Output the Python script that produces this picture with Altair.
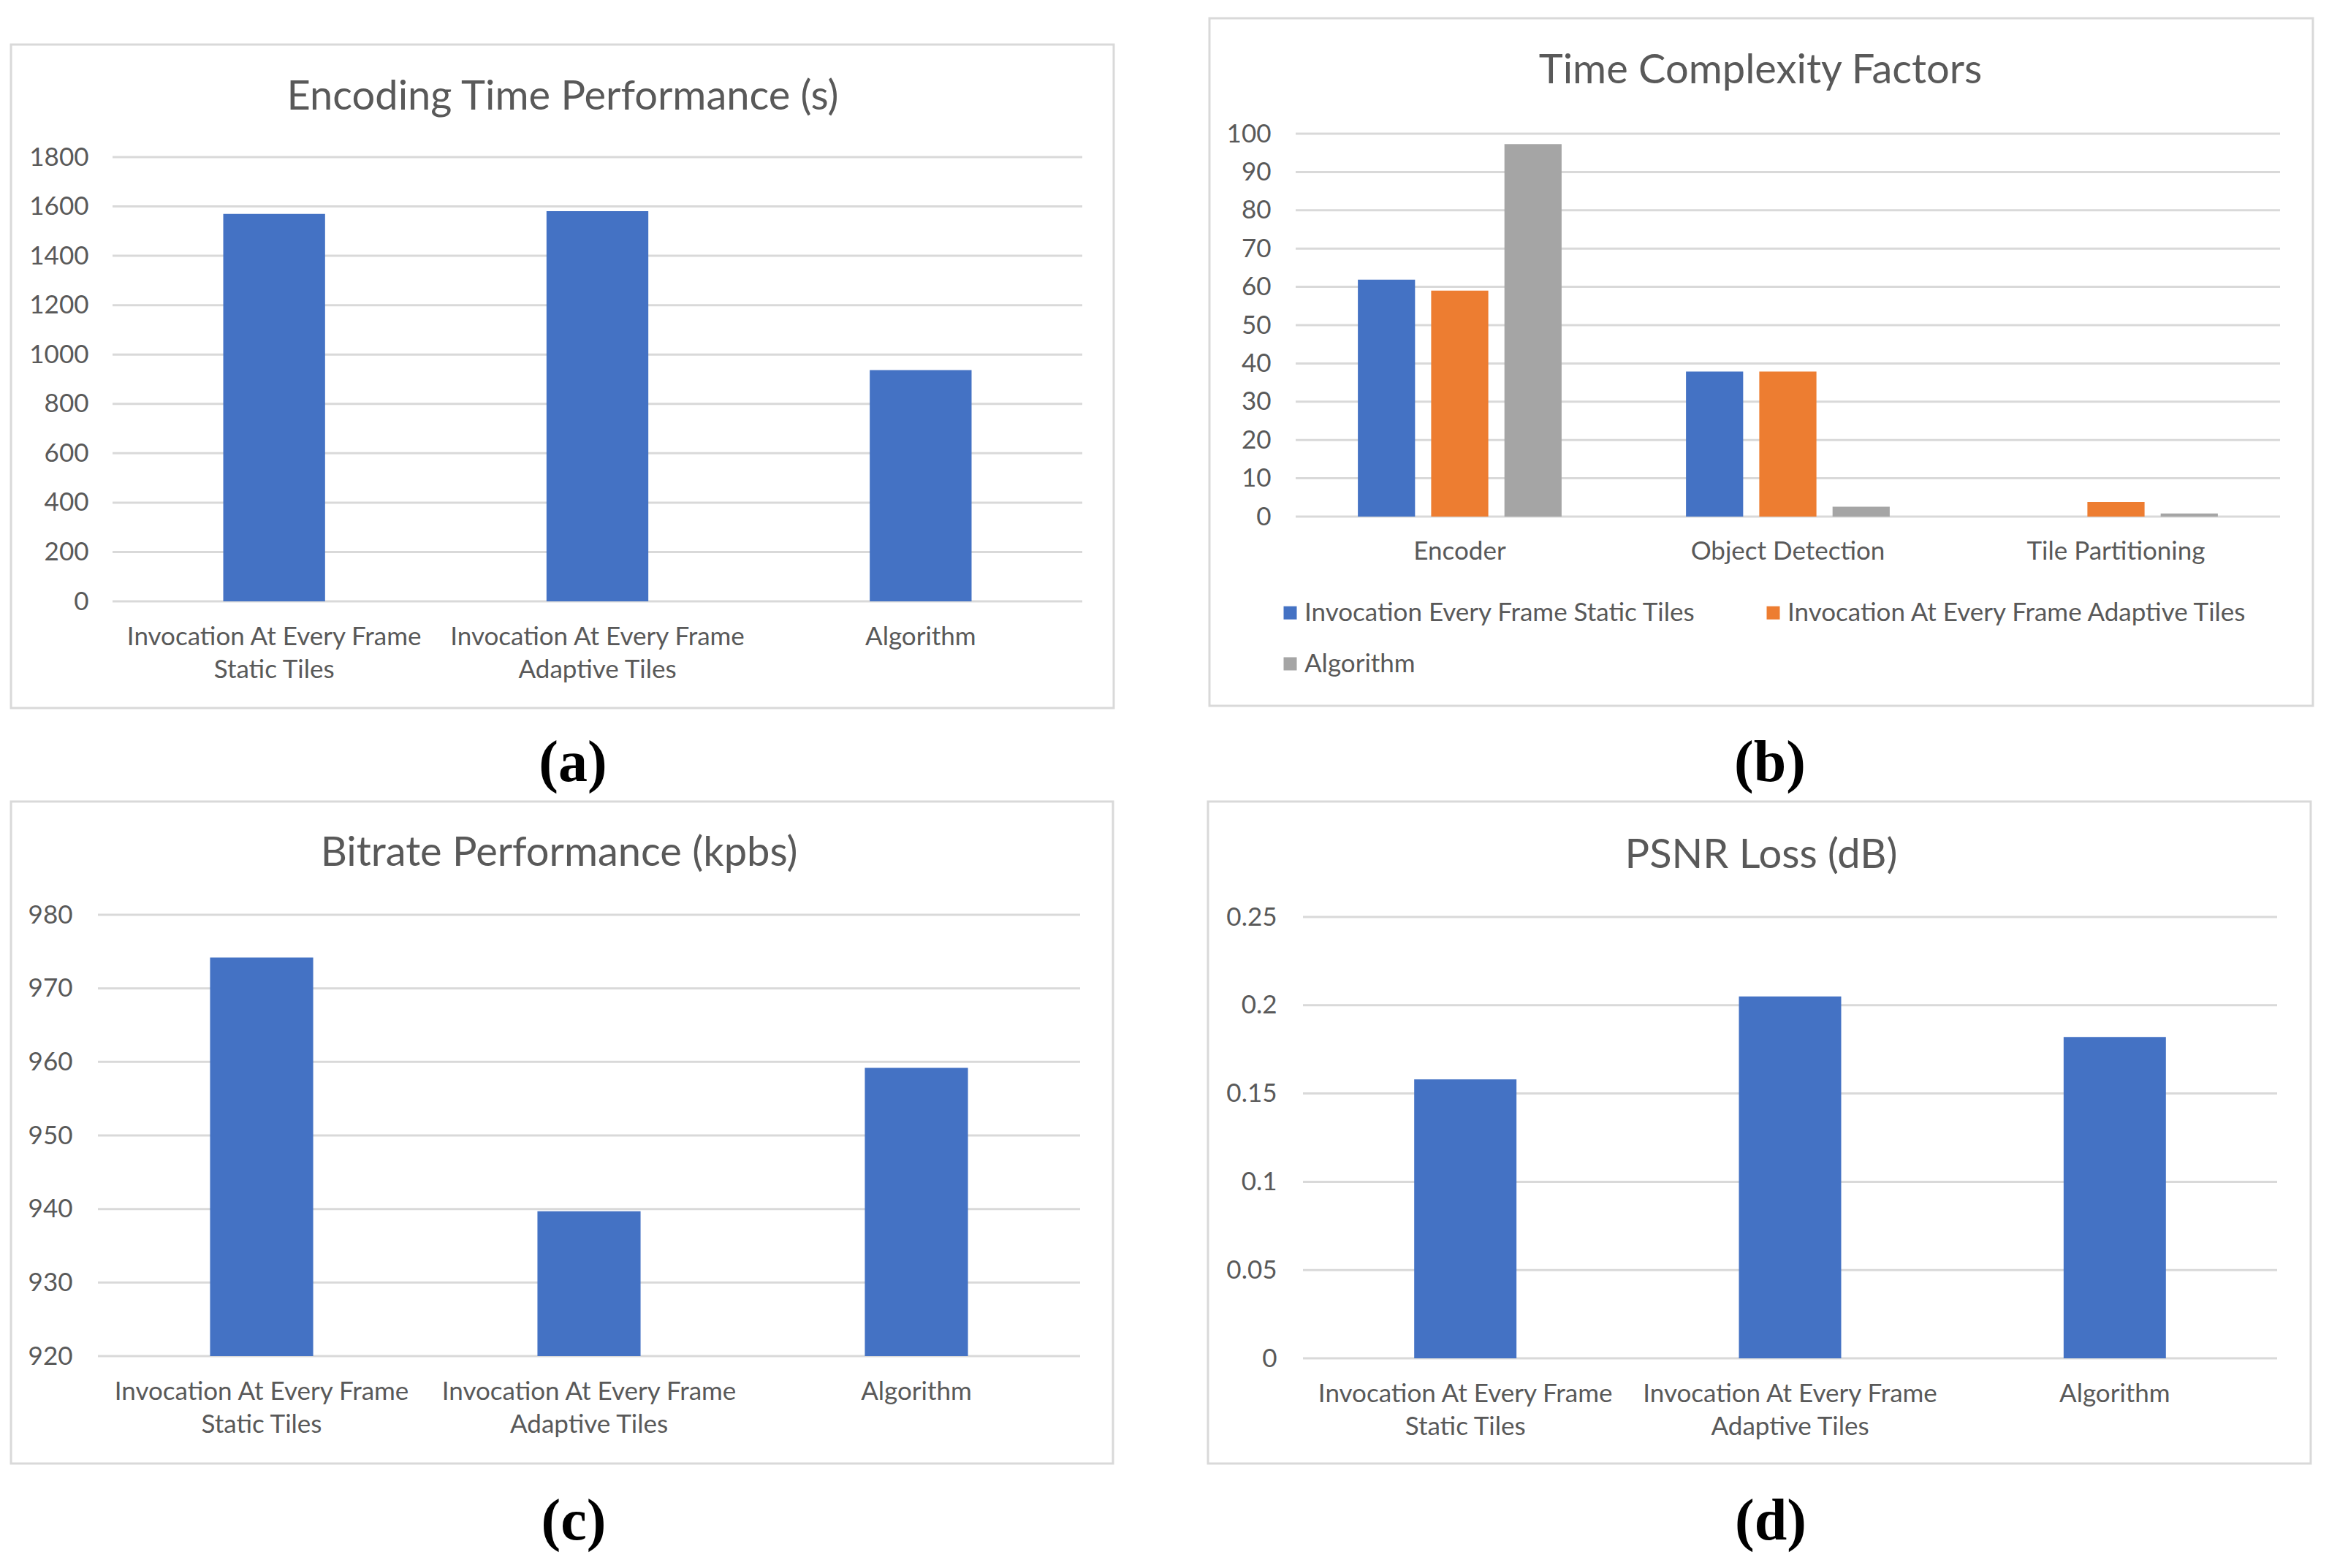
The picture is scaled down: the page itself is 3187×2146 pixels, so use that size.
import altair as alt
import pandas as pd

# ---------------- data ----------------
categories = ["Invocation At Every Frame|Static Tiles",
              "Invocation At Every Frame|Adaptive Tiles",
              "Algorithm"]
encoding_time = [1570, 1581, 937]
bitrate = [974.2, 939.7, 959.2]
psnr_loss = [0.158, 0.205, 0.182]

factors = ["Encoder", "Object Detection", "Tile Partitioning"]
series_names = ["Invocation Every Frame Static Tiles",
                "Invocation At Every Frame Adaptive Tiles",
                "Algorithm"]
static_tiles = [61.9, 37.9, 0.0]
adaptive_tiles = [59.0, 37.9, 3.8]
algorithm = [97.3, 2.6, 0.8]

enc_ticks = [0, 200, 400, 600, 800, 1000, 1200, 1400, 1600, 1800]
tc_ticks = [0, 10, 20, 30, 40, 50, 60, 70, 80, 90, 100]
br_ticks = [920, 930, 940, 950, 960, 970, 980]
psnr_ticks = [0, 0.05, 0.1, 0.15, 0.2, 0.25]

titles = ["Encoding Time Performance (s)", "Time Complexity Factors",
          "Bitrate Performance (kpbs)", "PSNR Loss (dB)"]
panel_labels = ["(a)", "(b)", "(c)", "(d)"]

# ---------------- style ----------------
BLUE, ORANGE, GRAY = "#4472C4", "#ED7D31", "#A5A5A5"
FONT = "Lato"
TXT = "#595959"
GRID = "#D9D9D9"
LABEL_FS = 35
TITLE_FS = 56

CELL_TOP = (-124, 1400, -160, 909)
CELL_BOTTOM = (-124, 1400, -160, 880)


def x_axis(pad):
    return alt.Axis(title=None, labelAngle=0, labelExpr="split(datum.label, '|')",
                    domain=False, ticks=False, labelPadding=pad, labelLineHeight=45,
                    labelFontSize=LABEL_FS, labelColor=TXT, labelFont=FONT,
                    labelLimit=1000, labelOverlap=False, grid=False)


def y_axis(ticks, fmt, pad):
    return alt.Axis(title=None, values=ticks, format=fmt, domain=False, ticks=False,
                    labelPadding=pad, labelFontSize=LABEL_FS, labelColor=TXT,
                    labelFont=FONT, labelOverlap=False, grid=False)


def grid_rules(ticks, yscale, yaxis, x0, x1):
    df = pd.DataFrame({"val": ticks})
    return alt.Chart(df).mark_rule(color=GRID, strokeWidth=3).encode(
        y=alt.Y("val:Q", scale=yscale, axis=yaxis),
        x=alt.value(x0), x2=alt.value(x1))


def simple_bars(values, yscale, yaxis, xrange, xpad, base=None):
    df = pd.DataFrame({"cat": categories, "val": values})
    xs = alt.Scale(paddingInner=0, paddingOuter=0, range=xrange)
    enc = dict(
        x=alt.X("cat:N", sort=categories, scale=xs, axis=x_axis(xpad)),
        y=alt.Y("val:Q", scale=yscale, axis=yaxis),
    )
    if base is not None:
        enc["y2"] = alt.datum(base)
    return alt.Chart(df).mark_bar(color=BLUE, width=alt.RelativeBandSize(0.315)).encode(**enc)


def panel(layers, w, h, cell, border, title, title_xy, label, label_xy):
    one = pd.DataFrame({"k": [0]})
    cell_l = alt.Chart(one).mark_rect(fill="transparent", strokeWidth=0).encode(
        x=alt.value(cell[0]), x2=alt.value(cell[1]),
        y=alt.value(cell[2]), y2=alt.value(cell[3]))
    border_l = alt.Chart(one).mark_rect(fill="transparent", stroke=GRID, strokeWidth=3).encode(
        x=alt.value(border[0]), x2=alt.value(border[1]),
        y=alt.value(border[2]), y2=alt.value(border[3]))
    title_l = alt.Chart(one).mark_text(
        text=title, font=FONT, fontSize=TITLE_FS, color=TXT,
        align="center", baseline="middle").encode(
        x=alt.value(title_xy[0]), y=alt.value(title_xy[1]))
    label_l = alt.Chart(one).mark_text(
        text=label, font="Liberation Serif", fontWeight="bold", fontSize=80,
        color="black", align="center", baseline="middle").encode(
        x=alt.value(label_xy[0]), y=alt.value(label_xy[1]))
    return alt.layer(cell_l, border_l, *layers, title_l, label_l).properties(width=w, height=h)


# (a)
ys_a = alt.Scale(domain=[0, 1800], range=[640, 32], nice=False, zero=False)
ya = y_axis(enc_ticks, "d", 13)
pa = panel([grid_rules(enc_ticks, ys_a, ya, 20, 1347),
            simple_bars(encoding_time, ys_a, ya, [20, 1347], 31)],
           1347, 640, CELL_TOP, (-119, 1390, -122, 786),
           titles[0], (636, -50), panel_labels[0], (650, 862))

# (b)
df_b = pd.DataFrame({
    "factor": factors * 3,
    "series": [s for s in series_names for _ in factors],
    "val": static_tiles + adaptive_tiles + algorithm,
})
ys_b = alt.Scale(domain=[0, 100], nice=False, zero=False)
yb = y_axis(tc_ticks, "d", 34)
bars_b = alt.Chart(df_b).mark_bar().encode(
    x=alt.X("factor:N", sort=factors,
            scale=alt.Scale(paddingInner=0.33, paddingOuter=0.165), axis=x_axis(30)),
    xOffset=alt.XOffset("series:N", sort=series_names,
                        scale=alt.Scale(paddingInner=0.22, paddingOuter=0.11)),
    y=alt.Y("val:Q", scale=ys_b, axis=yb),
    color=alt.Color("series:N", sort=series_names,
                    scale=alt.Scale(domain=series_names, range=[BLUE, ORANGE, GRAY]),
                    legend=alt.Legend(title=None, orient="none", legendX=-25, legendY=638,
                                      direction="horizontal", columns=2,
                                      symbolType="square", symbolSize=324,
                                      symbolStrokeWidth=0, labelFont=FONT,
                                      labelFontSize=LABEL_FS, labelColor=TXT,
                                      labelLimit=1000, columnPadding=88,
                                      rowPadding=34, labelOffset=2, padding=0)),
)
pb = panel([grid_rules(tc_ticks, ys_b, yb, 0, 1347), bars_b],
           1347, 524, CELL_TOP, (-118, 1392, -158, 783),
           titles[1], (636, -86), panel_labels[1], (649, 862))

# (c)
ys_c = alt.Scale(domain=[920, 980], nice=False, zero=False)
yc = y_axis(br_ticks, "d", 35)
pc = panel([grid_rules(br_ticks, ys_c, yc, 0, 1344),
            simple_bars(bitrate, ys_c, yc, [0, 1344], 31, base=920)],
           1344, 604, CELL_BOTTOM, (-119, 1389, -155, 751),
           titles[2], (631, -84), panel_labels[2], (651, 831))

# (d)
ys_d = alt.Scale(domain=[0, 0.25], range=[607, 3], nice=False, zero=False)
yd = y_axis(psnr_ticks, "~g", 26)
pd_ = panel([grid_rules(psnr_ticks, ys_d, yd, 10, 1343),
             simple_bars(psnr_loss, ys_d, yd, [10, 1343], 31)],
            1343, 607, CELL_BOTTOM, (-120, 1389, -155, 751),
            titles[3], (637, -81), panel_labels[3], (650, 831))

chart = alt.concat(pa, pb, pc, pd_, columns=2, align="each",
                   spacing=alt.RowColnumber(row=0, column=115)).properties(
    padding={"left": 2, "top": 15, "right": 0, "bottom": 0}, background="white"
).resolve_scale(color="independent").resolve_legend(color="independent").configure_view(stroke=None)

chart.save("out.html", embed_options={"renderer": "svg", "actions": False})
